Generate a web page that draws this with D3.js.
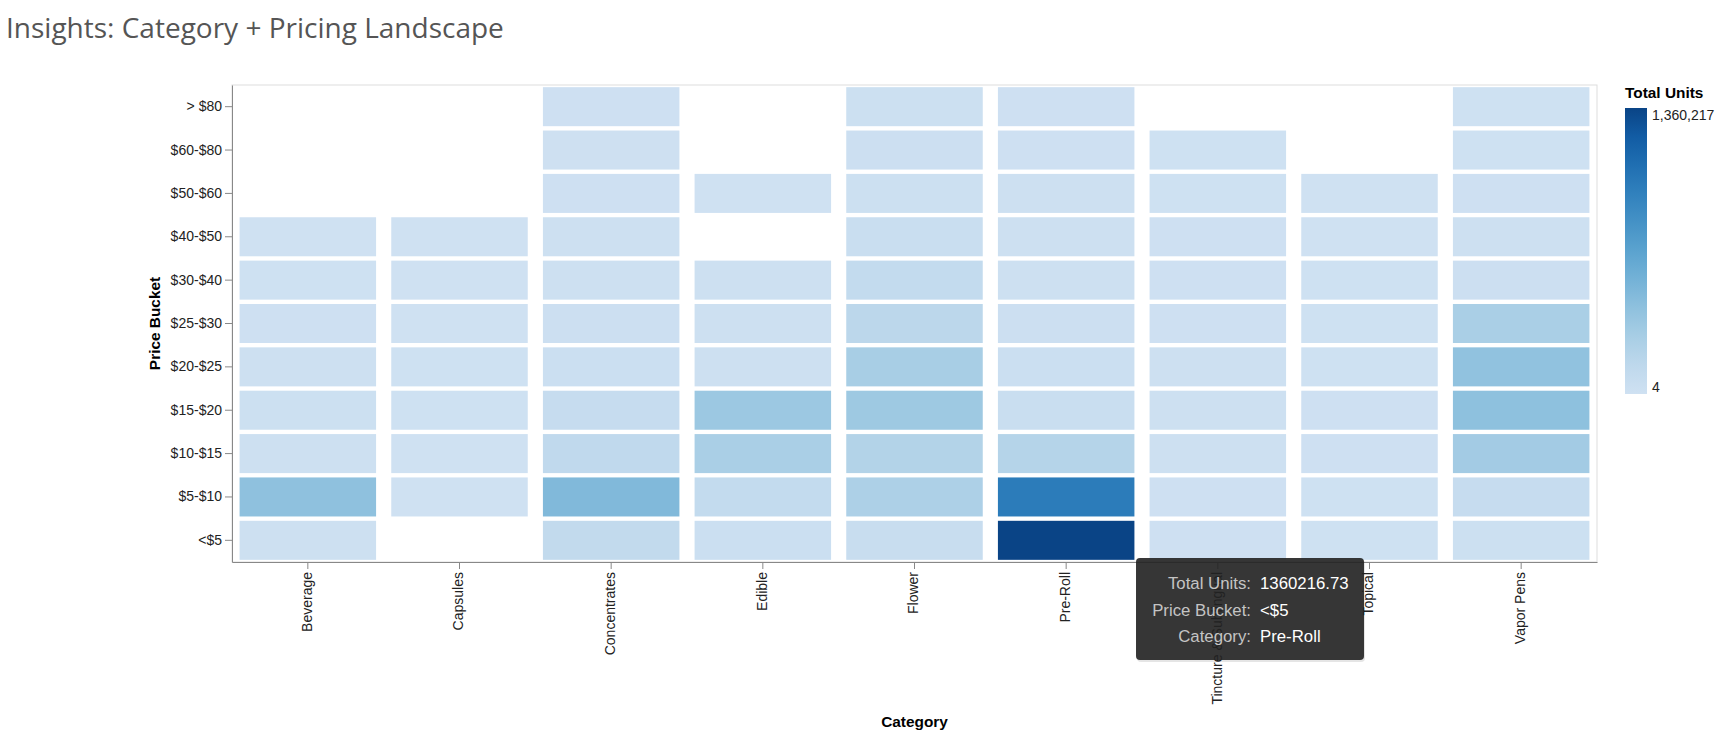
<!DOCTYPE html>
<html>
<head>
<meta charset="utf-8">
<script src="https://cdn.jsdelivr.net/npm/d3@7"></script>
<style>
  body { margin: 0; background: #fff; }
  svg { display: block; }
</style>
</head>
<body>
<svg width="1726" height="748"></svg>
<script>
'use strict';

// categories along x, price buckets along y (top to bottom)
var categories = ['Beverage', 'Capsules', 'Concentrates', 'Edible', 'Flower',
  'Pre-Roll', 'Tincture & Sublingual', 'Topical', 'Vapor Pens'];
var priceBuckets = ['> $80', '$60-$80', '$50-$60', '$40-$50', '$30-$40', '$25-$30',
  '$20-$25', '$15-$20', '$10-$15', '$5-$10', '<$5'];

// total units per bucket, one list per category (null = no sales)
var beverage     = [null, null, null, 1200, 6500, 9800, 14500, 21000, 18000, 408000, 12500];
var capsules     = [null, null, null, 4, 2100, 3600, 5200, 4400, 3300, 2800, null];
var concentrates = [8200, 11500, 9600, 19800, 16700, 23400, 31500, 74000, 121000, 478000, 108000];
var edible       = [null, null, 3900, null, 12800, 14100, 17600, 338000, 262000, 96000, 31000];
var flower       = [21400, 24800, 22300, 46000, 95000, 148000, 272000, 326000, 205000, 240000, 58000];
var preRoll      = [9100, 10800, 12400, 15300, 18200, 22900, 29800, 52000, 190000, 993000, 1360216.73];
var tincture     = [null, 6100, 7200, 8400, 9900, 11300, 13800, 15600, 12100, 10400, 8700];
var topical      = [null, null, 2600, 3100, 4700, 5800, 6900, 9400, 7800, 6300, 4100];
var vaporPens    = [5400, 7300, 9700, 13900, 26000, 258000, 396000, 412000, 301000, 70000, 22000];

var unitsByCategory = [beverage, capsules, concentrates, edible, flower,
  preRoll, tincture, topical, vaporPens];

// flatten into cells
var cells = [];
unitsByCategory.forEach(function (list, ci) {
  list.forEach(function (v, bi) {
    if (v !== null) cells.push({ category: categories[ci], bucket: priceBuckets[bi], units: v });
  });
});

var svg = d3.select('svg');
var plotL = 232, plotR = 1597, plotT = 85, plotB = 562;

var x = d3.scaleBand().domain(categories).range([plotL, plotR])
  .paddingInner(0.1).paddingOuter(0.05);
var y = d3.scaleBand().domain(priceBuckets).range([plotT, plotB])
  .paddingInner(0.1).paddingOuter(0.05);

var minU = d3.min(cells, function (d) { return d.units; });
var maxU = d3.max(cells, function (d) { return d.units; });
var blues = ['#cfe1f2', '#bed8ec', '#a8cee5', '#8fc1de', '#74b2d7', '#5ba3cf',
  '#4592c6', '#3181bd', '#206fb2', '#125ca4', '#0a4486'];
var color = d3.scaleLinear()
  .domain(blues.map(function (c, i) { return minU + (maxU - minU) * i / (blues.length - 1); }))
  .range(blues)
  .interpolate(d3.interpolateRgb);

// title
svg.append('text')
  .attr('x', 6).attr('y', 38)
  .attr('font-family', '"Open Sans", sans-serif')
  .attr('font-size', 28)
  .attr('fill', '#555')
  .text('Insights: Category + Pricing Landscape');

// view border
svg.append('rect')
  .attr('x', plotL).attr('y', plotT)
  .attr('width', plotR - plotL).attr('height', plotB - plotT)
  .attr('fill', 'none').attr('stroke', '#ddd');

// cells
svg.append('g').selectAll('rect')
  .data(cells)
  .join('rect')
  .attr('x', function (d) { return x(d.category); })
  .attr('y', function (d) { return y(d.bucket); })
  .attr('width', x.bandwidth())
  .attr('height', y.bandwidth())
  .attr('fill', function (d) { return color(d.units); });

var font = '"Liberation Sans", Arial, sans-serif';

// y axis
var yAxis = svg.append('g')
  .attr('transform', 'translate(' + plotL + ',0)')
  .call(d3.axisLeft(y).tickSize(7).tickPadding(3).tickSizeOuter(0));
yAxis.selectAll('text').attr('font-family', font).attr('font-size', 14).attr('fill', '#222');

// x axis
var xAxis = svg.append('g')
  .attr('transform', 'translate(0,' + plotB + ')')
  .call(d3.axisBottom(x).tickSize(7).tickPadding(3).tickSizeOuter(0));
xAxis.selectAll('text')
  .attr('font-family', font).attr('font-size', 14).attr('fill', '#222')
  .attr('transform', 'rotate(-90)')
  .attr('text-anchor', 'end')
  .attr('dy', '0.28em')
  .attr('x', -10).attr('y', 0);

svg.selectAll('.domain, .tick line').attr('stroke', '#888');

// axis titles
svg.append('text')
  .attr('transform', 'translate(160,' + (plotT + plotB) / 2 + ') rotate(-90)')
  .attr('text-anchor', 'middle')
  .attr('font-family', font).attr('font-size', 15.4).attr('font-weight', 'bold')
  .text('Price Bucket');
svg.append('text')
  .attr('x', (plotL + plotR) / 2).attr('y', 727)
  .attr('text-anchor', 'middle')
  .attr('font-family', font).attr('font-size', 15.4).attr('font-weight', 'bold')
  .text('Category');

// legend
var lg = { x: 1625, y: 108, w: 22, h: 286 };
var grad = svg.append('defs').append('linearGradient')
  .attr('id', 'blues').attr('x1', 0).attr('y1', 1).attr('x2', 0).attr('y2', 0);
grad.selectAll('stop').data(blues).join('stop')
  .attr('offset', function (d, i) { return i / (blues.length - 1); })
  .attr('stop-color', function (d) { return d; });
svg.append('text')
  .attr('x', lg.x).attr('y', 98)
  .attr('font-family', font).attr('font-size', 15.4).attr('font-weight', 'bold')
  .text('Total Units');
svg.append('rect')
  .attr('x', lg.x).attr('y', lg.y).attr('width', lg.w).attr('height', lg.h)
  .attr('fill', 'url(#blues)');
var fmt = d3.format(',.0f');
svg.append('text')
  .attr('x', lg.x + lg.w + 5).attr('y', lg.y + 12)
  .attr('font-family', font).attr('font-size', 14).attr('fill', '#222')
  .text(fmt(maxU));
svg.append('text')
  .attr('x', lg.x + lg.w + 5).attr('y', lg.y + lg.h - 2)
  .attr('font-family', font).attr('font-size', 14).attr('fill', '#222')
  .text(fmt(minU));

// tooltip on the top cell (translucent, like the hover box)
var hot = cells.find(function (d) { return d.units === maxU; });
var tip = svg.append('g').attr('transform', 'translate(1136,558)');
tip.append('rect')
  .attr('x', 1).attr('y', 2).attr('width', 228).attr('height', 102).attr('rx', 4)
  .attr('fill', 'rgba(0,0,0,0.1)');
tip.append('rect')
  .attr('width', 228).attr('height', 102).attr('rx', 4)
  .attr('fill', 'rgba(34,34,34,0.9)');
var rows = [['Total Units:', String(hot.units)], ['Price Bucket:', hot.bucket], ['Category:', hot.category]];
rows.forEach(function (r, i) {
  tip.append('text')
    .attr('x', 115).attr('y', 31 + i * 26.5)
    .attr('text-anchor', 'end')
    .attr('font-family', font).attr('font-size', 16.8).attr('fill', '#c4c4c4')
    .text(r[0]);
  tip.append('text')
    .attr('x', 124).attr('y', 31 + i * 26.5)
    .attr('font-family', font).attr('font-size', 16.8).attr('fill', '#fff')
    .text(r[1]);
});
</script>
</body>
</html>
